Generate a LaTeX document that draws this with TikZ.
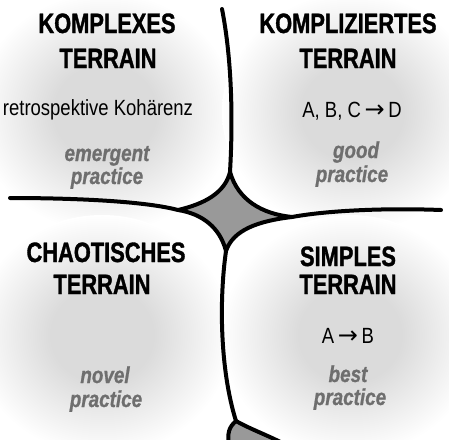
\documentclass[tikz,border=0pt]{standalone}
\usepackage{fontspec}
\setmainfont{Liberation Sans}
\newfontfamily\kopf{Liberation Sans}[FakeStretch=0.78, FakeBold=1.2]
\newfontfamily\zeile{Liberation Sans}[FakeStretch=0.84]
\newfontfamily\praxisfont{Liberation Sans}[FakeStretch=0.82, FakeBold=0.8]
\newfontfamily\pfeil{DejaVu Sans}

\definecolor{feldgrau}{gray}{0.86}
\definecolor{praxisgrau}{gray}{0.43}
\definecolor{kerngrau}{gray}{0.6}
\pgfdeclareradialshading{feld}{\pgfpoint{0bp}{0bp}}{color(0bp)=(feldgrau); color(10bp)=(feldgrau); color(25bp)=(white); color(50bp)=(white)}

\tikzset{
  titel/.style={font=\kopf\bfseries\fontsize{28}{30}\selectfont, anchor=base, inner sep=0pt},
  formel/.style={font=\zeile\fontsize{22}{24}\selectfont, anchor=base, inner sep=0pt},
  praxis/.style={font=\praxisfont\bfseries\itshape\fontsize{23}{24}\selectfont, text=praxisgrau, anchor=base, inner sep=0pt},
  grenze/.style={line width=4pt, line cap=round, line join=round},
}
\newcommand{\pf}{\,{\pfeil\fontsize{24}{24}\selectfont →}\,}

\begin{document}
\begin{tikzpicture}[x=1pt,y=-1pt]
\useasboundingbox (0,0) rectangle (449,439);
\begin{scope}
  \clip (0,0) rectangle (449,439);
  % Hintergrund der vier Felder
  \shade[shading=feld] (105,112) ellipse [x radius=130pt, y radius=120pt];
  \shade[shading=feld] (352,112) ellipse [x radius=130pt, y radius=120pt];
  \shade[shading=feld] (102,335) ellipse [x radius=130pt, y radius=120pt];
  \shade[shading=feld] (350,335) ellipse [x radius=130pt, y radius=120pt];

  % Grenzlinien
  \draw[grenze] (222,9) .. controls (232,60) and (233,120) .. (230,172);
  \draw[grenze] (10,198) .. controls (60,198) and (140,200) .. (178,210);
  \draw[grenze] (292,217) .. controls (330,210) and (390,208) .. (441,210);
  \draw[grenze] (226,251) .. controls (219,300) and (220,370) .. (236,421);
  % Mitte
  \filldraw[grenze, fill=kerngrau] (230,172) .. controls (238,200) and (262,214) .. (292,217)
     .. controls (258,221) and (233,230) .. (226,251)
     .. controls (220,228) and (203,214) .. (178,210)
     .. controls (204,204) and (225,193) .. (230,172) -- cycle;
  \filldraw[grenze, fill=kerngrau] (288,446) .. controls (270,436) and (252,430) .. (236,421)
     .. controls (229,427) and (227,433) .. (229,446);
\end{scope}

\node[titel] (kx1) at (107,33) {KOMPLEXES};
\node[titel] (kx2) at (108,68) {TERRAIN};
\node[formel] (kxf) at (98,115) {retrospektive Kohärenz};
\node[praxis] (kxp1) at (107,161) {emergent};
\node[praxis] (kxp2) at (107,184) {practice};

\node[titel] (kp1) at (348,33) {KOMPLIZIERTES};
\node[titel] (kp2) at (348,68) {TERRAIN};
\node[formel] (kpf) at (352,117) {A, B, C\pf D};
\node[praxis] (kpp1) at (356,158) {good};
\node[praxis] (kpp2) at (352,182) {practice};

\node[titel] (ch1) at (106,262) {CHAOTISCHES};
\node[titel] (ch2) at (102,294) {TERRAIN};
\node[praxis] (chp1) at (105,383) {novel};
\node[praxis] (chp2) at (106,407) {practice};

\node[titel] (si1) at (348,266) {SIMPLES};
\node[titel] (si2) at (348,294) {TERRAIN};
\node[formel] (sif) at (348,343) {A\pf B};
\node[praxis] (sip1) at (348,382) {best};
\node[praxis] (sip2) at (350,405) {practice};
\end{tikzpicture}
\end{document}
